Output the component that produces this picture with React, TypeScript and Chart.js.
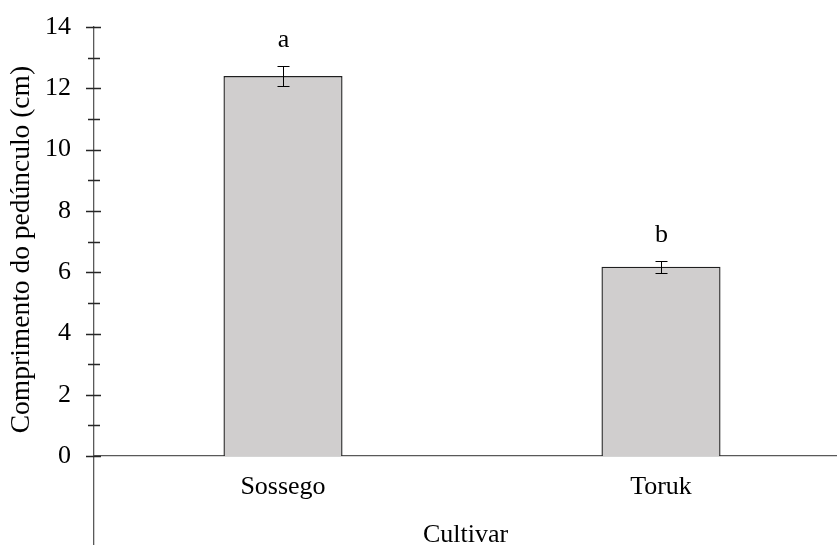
import { useEffect, useRef } from 'react';
import { Chart, registerables } from 'chart.js';

Chart.register(...registerables);

// ---- data ----
const categories = ['Sossego', 'Toruk'];
const means = [12.4, 6.18];
const errors = [0.32, 0.2];
const letters = ['a', 'b'];
const yTickValues = [0, 1, 2, 3, 4, 5, 6, 7, 8, 9, 10, 11, 12, 13, 14];
const yLabelValues = [0, 2, 4, 6, 8, 10, 12, 14];
const yTitle = 'Comprimento do pedúnculo (cm)';
const xTitle = 'Cultivar';

const FAMILY = "'Times New Roman', 'Liberation Serif', serif";
const FONT_SIZE = 26;

const overlay = {
  id: 'overlay',
  afterDatasetsDraw(chart: any) {
    const { ctx } = chart;
    const xs = chart.scales.x;
    const ys = chart.scales.y;
    ctx.save();
    // error bars + letters
    ctx.strokeStyle = '#000';
    ctx.lineWidth = 1;
    ctx.fillStyle = '#000';
    ctx.font = `${FONT_SIZE}px ${FAMILY}`;
    ctx.textAlign = 'center';
    ctx.textBaseline = 'alphabetic';
    means.forEach((m, i) => {
      const px = Math.round(xs.getPixelForValue(i)) + 0.5;
      const top = Math.round(ys.getPixelForValue(m + errors[i])) + 0.5;
      const bot = Math.round(ys.getPixelForValue(m - errors[i])) + 0.5;
      ctx.beginPath();
      ctx.moveTo(px, top);
      ctx.lineTo(px, bot);
      ctx.moveTo(px - 6, top);
      ctx.lineTo(px + 6, top);
      ctx.moveTo(px - 6, bot);
      ctx.lineTo(px + 6, bot);
      ctx.stroke();
      ctx.fillText(letters[i], px, top - 20);
    });
    // y tick marks crossing the axis
    const ax = ys.right;
    ctx.strokeStyle = '#262626';
    ctx.lineWidth = 1.3;
    ctx.beginPath();
    yTickValues.forEach((v) => {
      const py = Math.round(ys.getPixelForValue(v)) + 0.5;
      const major = yLabelValues.includes(v);
      ctx.moveTo(ax - (major ? 8 : 6), py);
      ctx.lineTo(ax + (major ? 7 : 6), py);
    });
    ctx.stroke();
    // y title
    const cy = (ys.getPixelForValue(0) + ys.getPixelForValue(14)) / 2 + 8;
    ctx.translate(ys.left + 21.5, cy);
    ctx.rotate(-Math.PI / 2);
    ctx.font = `27.5px ${FAMILY}`;
    ctx.textAlign = 'center';
    ctx.textBaseline = 'middle';
    ctx.fillText(yTitle, 0, 0);
    ctx.restore();
  },
};

export default function App() {
  const ref = useRef<HTMLCanvasElement | null>(null);

  useEffect(() => {
    if (!ref.current) return;
    const font = { family: FAMILY, size: FONT_SIZE };
    const chart = new Chart(ref.current, {
      type: 'bar',
      data: {
        datasets: [
          {
            data: means.map((m, i) => ({ x: i, y: m })),
            backgroundColor: '#D0CECE',
            borderColor: '#1f1f1f',
            borderWidth: 1.4,
            barPercentage: 0.315,
            categoryPercentage: 1,
          },
        ],
      },
      options: {
        animation: false,
        responsive: true,
        maintainAspectRatio: false,
        layout: { padding: { top: 27, left: 0, right: 0, bottom: 0 } },
        plugins: {
          legend: { display: false },
          tooltip: { enabled: false },
        },
        scales: {
          x: {
            type: 'linear',
            offset: false,
            min: -0.5,
            max: 1.4656,
            position: { y: 0 } as any,
            afterBuildTicks: (s: any) => {
              s.ticks = categories.map((_, i) => ({ value: i }));
            },
            afterFit: (s: any) => {
              s.paddingLeft = 0;
              s.paddingRight = 0;
            },
            grid: { display: false, drawTicks: false },
            border: { display: true, color: '#595959', width: 1.3 },
            ticks: {
              padding: 15,
              color: '#000',
              font,
              maxRotation: 0,
              autoSkip: false,
              callback: (v: any) => categories[v as number] ?? '',
            },
            title: {
              display: true,
              text: xTitle,
              color: '#000',
              font,
              padding: { top: 2, bottom: 0 },
            },
          },
          y: {
            type: 'linear',
            min: -2.9,
            max: 14,
            afterBuildTicks: (s: any) => {
              s.ticks = yTickValues.map((v) => ({ value: v }));
            },
            afterFit: (s: any) => {
              s.width = 94;
              s.paddingTop = 0;
              s.paddingBottom = 0;
            },
            grid: { display: false, drawTicks: false },
            border: { display: true, color: '#595959', width: 1.3 },
            ticks: {
              padding: 23,
              color: '#000',
              font,
              autoSkip: false,
              callback: (v: any) => (yLabelValues.includes(v as number) ? String(v) : ''),
            },
          },
        },
      },
      plugins: [overlay],
    });
    return () => chart.destroy();
  }, []);

  return (
    <div style={{ position: 'absolute', left: 0, top: 0, width: 837, height: 545 }}>
      <canvas ref={ref} />
    </div>
  );
}
